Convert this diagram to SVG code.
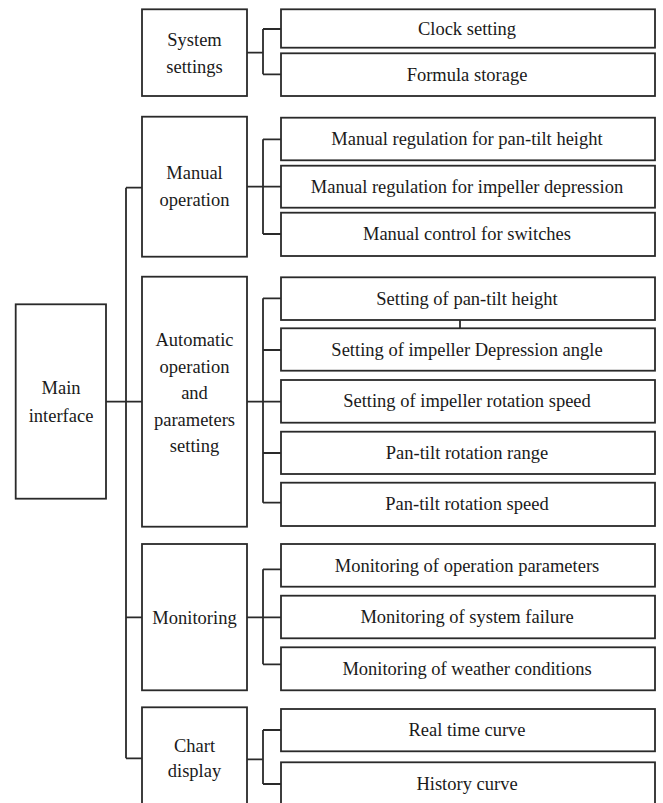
<svg xmlns="http://www.w3.org/2000/svg" width="663" height="803" viewBox="0 0 663 803">
<style>
.b{fill:#fff;stroke:#2a2a2a;stroke-width:1.8}
.c{fill:none;stroke:#2a2a2a;stroke-width:1.8}
text{font-family:"Liberation Serif","Times New Roman",serif;font-size:18.5px;fill:#1a1a1a;text-anchor:middle}
</style>
<rect width="663" height="803" fill="#fff"/>
<g id="connectors">
<path class="c" d="M106,401.7H142M126,187.7V758.3M126,187.7H142M126,617.3H142M126,758.3H142"/>
<path class="c" d="M247,52.7H263M263,29V74.3M263,29H281M263,74.3H281"/>
<path class="c" d="M247,186.7H281M263,139.3V234M263,139.3H281M263,234H281"/>
<path class="c" d="M247,401.7H281M263,298.3V502.7M263,298.3H281M263,350H281M263,453H281M263,502.7H281"/>
<path class="c" d="M460,320V328.3"/>
<path class="c" d="M247,617.3H281M263,569.3V664.3M263,569.3H281M263,664.3H281"/>
<path class="c" d="M247,759.3H263M263,730V784M263,730H281M263,784H281"/>
</g>
<g id="main"><rect class="b" x="15.7" y="304.3" width="90.3" height="194.4"/><text x="61" y="394">Main</text><text x="61" y="421.5">interface</text></g>
<g id="system"><rect class="b" x="142" y="9.3" width="105" height="86.7"/><text x="194.5" y="45.5">System</text><text x="194.5" y="72.5">settings</text></g>
<g id="clock"><rect class="b" x="281" y="9.3" width="374" height="38.4"/><text x="467" y="34.7">Clock setting</text></g>
<g id="formula"><rect class="b" x="281" y="53.3" width="374" height="42.7"/><text x="467" y="80.5">Formula storage</text></g>
<g id="manual"><rect class="b" x="142" y="116.7" width="105" height="140"/><text x="194.5" y="179">Manual</text><text x="194.5" y="206">operation</text></g>
<g id="m1"><rect class="b" x="281" y="117.7" width="374" height="42.6"/><text x="467" y="145">Manual regulation for pan-tilt height</text></g>
<g id="m2"><rect class="b" x="281" y="165.7" width="374" height="42"/><text x="467" y="192.7">Manual regulation for impeller depression</text></g>
<g id="m3"><rect class="b" x="281" y="212.7" width="374" height="43.3"/><text x="467" y="240.3">Manual control for switches</text></g>
<g id="auto"><rect class="b" x="142" y="276.7" width="105" height="250"/><text x="194.5" y="346">Automatic</text><text x="194.5" y="372.5">operation</text><text x="194.5" y="399">and</text><text x="194.5" y="425.5">parameters</text><text x="194.5" y="452">setting</text></g>
<g id="a1"><rect class="b" x="281" y="277.3" width="374" height="42.7"/><text x="467" y="304.5">Setting of pan-tilt height</text></g>
<g id="a2"><rect class="b" x="281" y="328.3" width="374" height="42.4"/><text x="467" y="355.7">Setting of impeller Depression angle</text></g>
<g id="a3"><rect class="b" x="281" y="380" width="374" height="42.7"/><text x="467" y="407.3">Setting of impeller rotation speed</text></g>
<g id="a4"><rect class="b" x="281" y="431.7" width="374" height="42.3"/><text x="467" y="458.8">Pan-tilt rotation range</text></g>
<g id="a5"><rect class="b" x="281" y="482.7" width="374" height="43.3"/><text x="467" y="510.3">Pan-tilt rotation speed</text></g>
<g id="monitoring"><rect class="b" x="142" y="544" width="105" height="146.3"/><text x="194.5" y="624">Monitoring</text></g>
<g id="mo1"><rect class="b" x="281" y="544" width="374" height="42.7"/><text x="467" y="571.5">Monitoring of operation parameters</text></g>
<g id="mo2"><rect class="b" x="281" y="595.7" width="374" height="42.6"/><text x="467" y="623">Monitoring of system failure</text></g>
<g id="mo3"><rect class="b" x="281" y="647.3" width="374" height="43"/><text x="467" y="674.5">Monitoring of weather conditions</text></g>
<g id="chart"><rect class="b" x="142" y="707.3" width="105" height="100"/><text x="194.5" y="751.5">Chart</text><text x="194.5" y="776.5">display</text></g>
<g id="c1"><rect class="b" x="281" y="709" width="374" height="42.3"/><text x="467" y="736.3">Real time curve</text></g>
<g id="c2"><rect class="b" x="281" y="762.3" width="374" height="45"/><text x="467" y="789.5">History curve</text></g>
</svg>
